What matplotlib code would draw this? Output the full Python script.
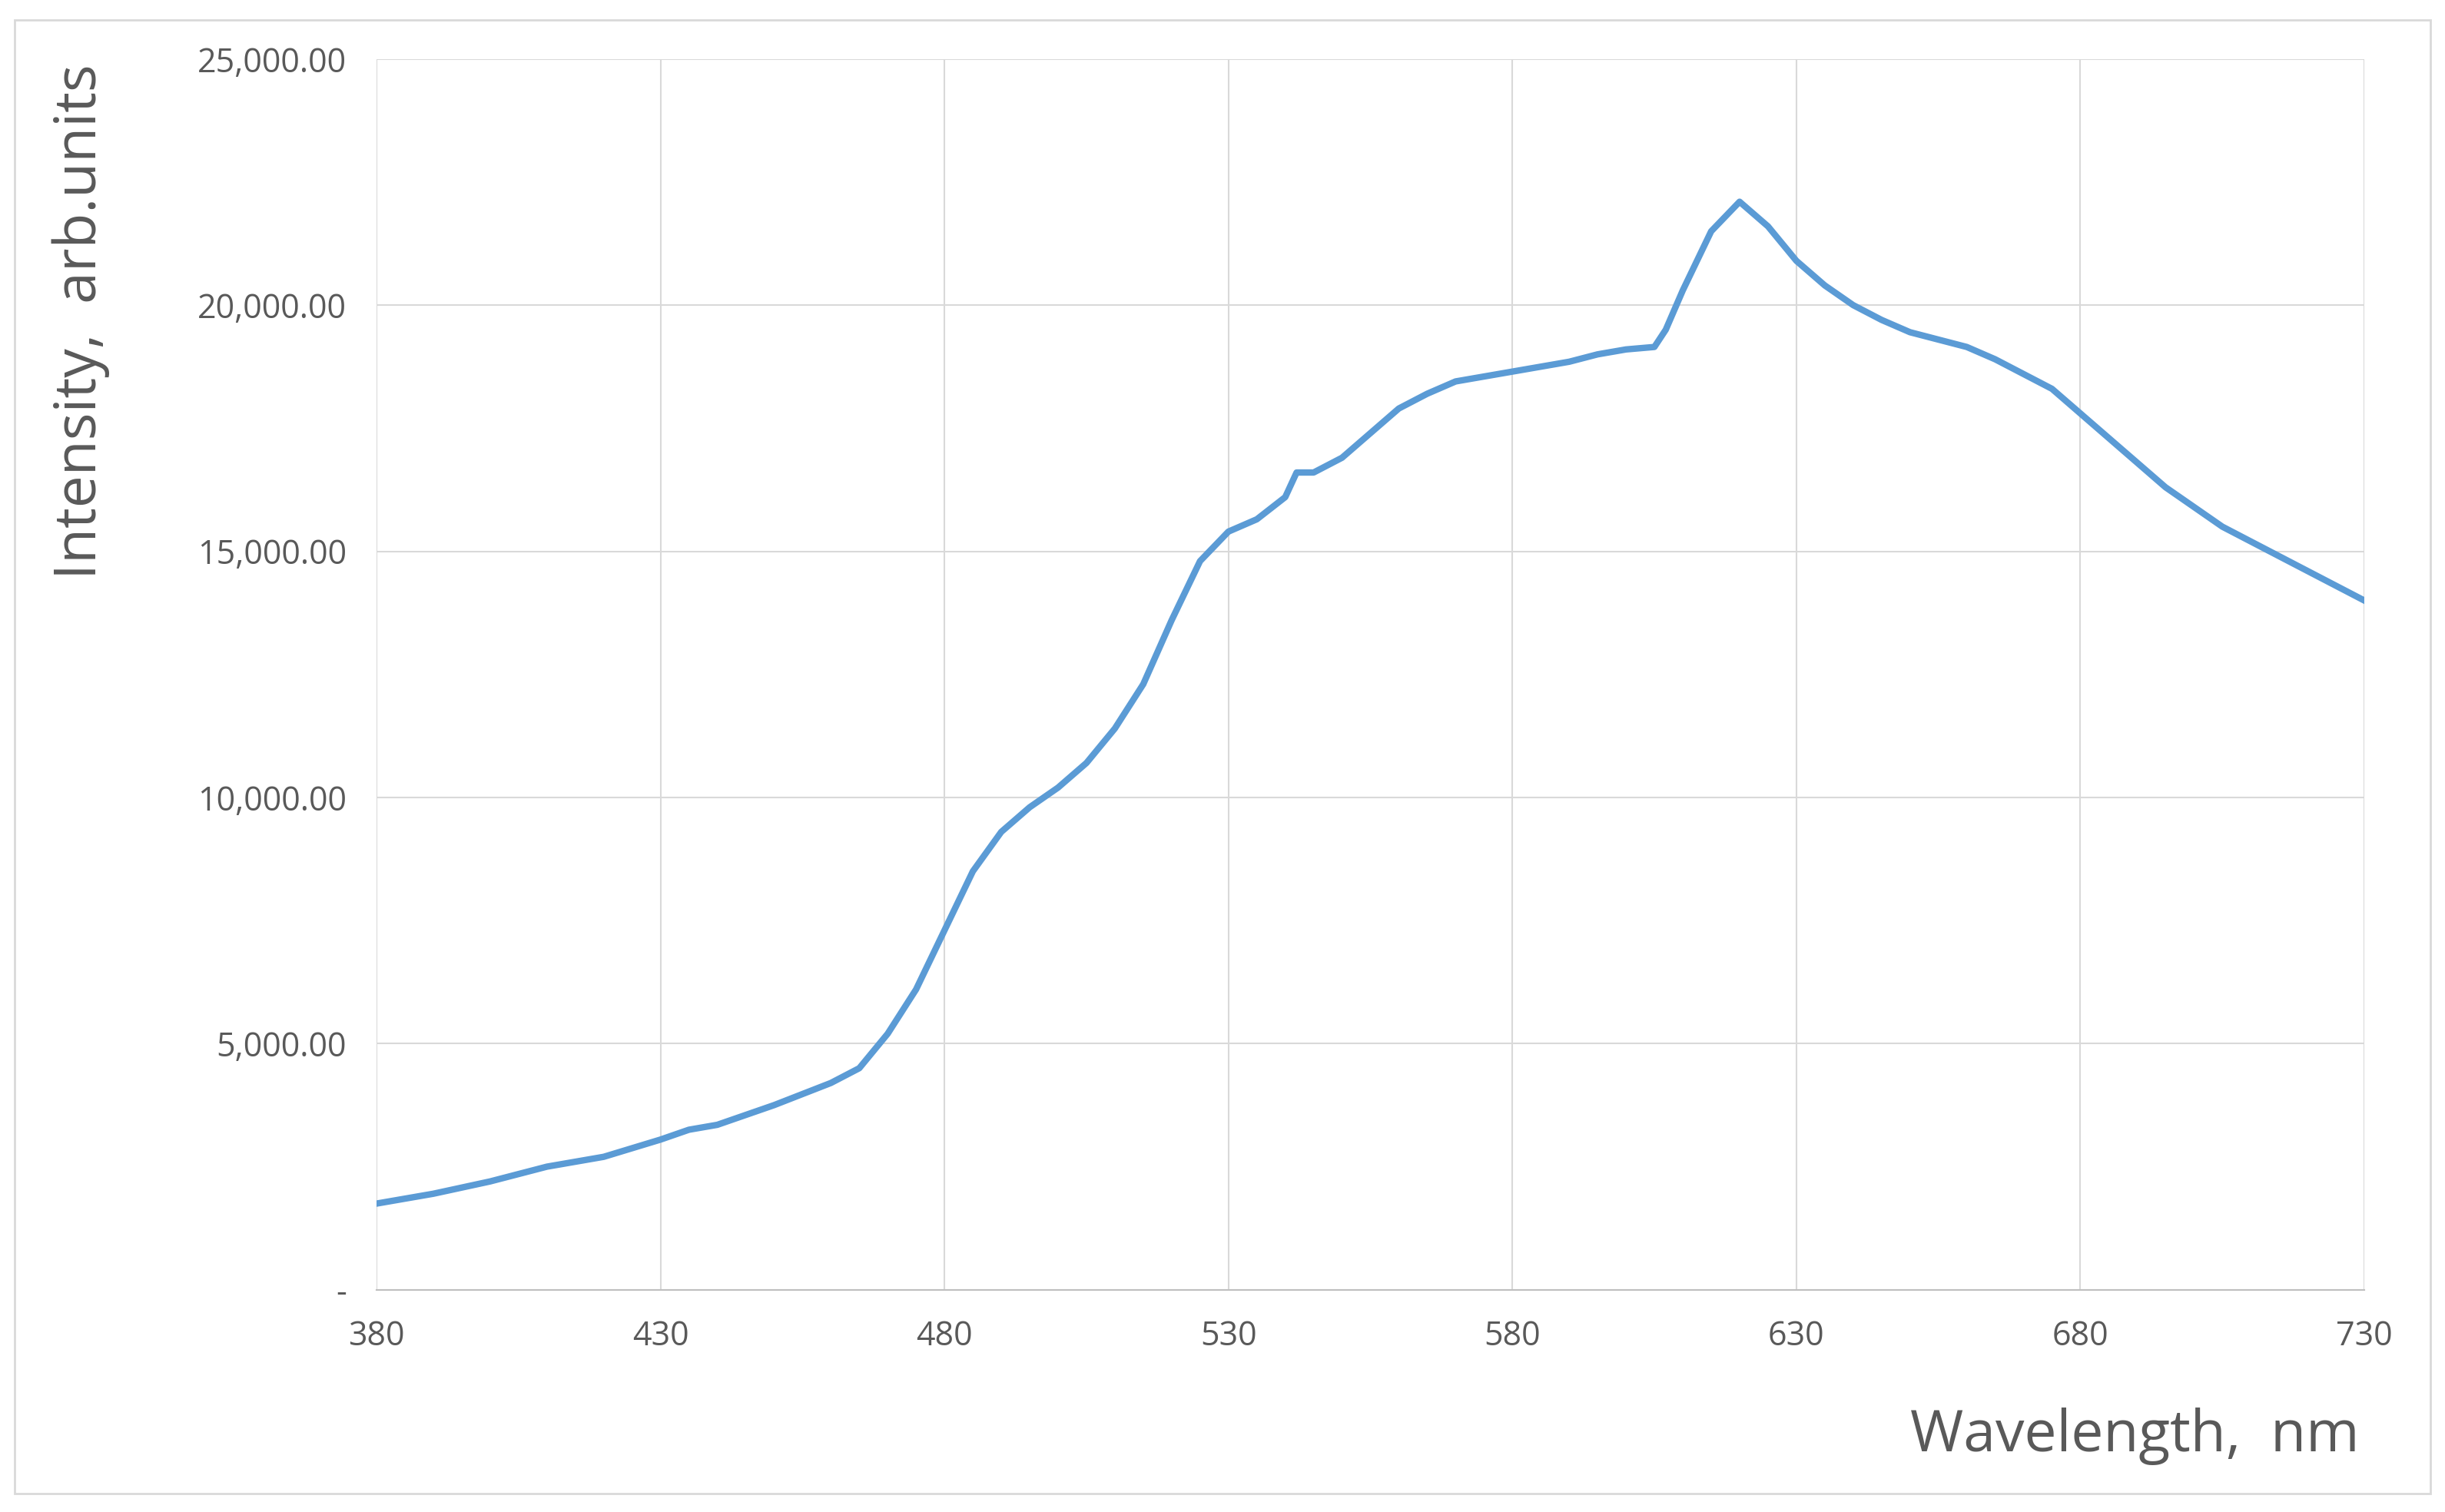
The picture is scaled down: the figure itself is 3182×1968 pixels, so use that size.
import matplotlib.pyplot as plt
from matplotlib.ticker import FuncFormatter
from matplotlib.patches import Rectangle

# 光譜數據
wavelength = [380, 390, 400, 410, 420, 430, 435, 440, 450, 460, 465, 470, 475, 480,
              485, 490, 495, 500, 505, 510, 515, 520, 525, 530, 535, 540, 542, 545,
              550, 555, 560, 565, 570, 575, 580, 585, 590, 595, 600, 605, 607, 610,
              615, 620, 625, 630, 635, 640, 645, 650, 655, 660, 665, 670, 675, 680,
              685, 690, 695, 700, 705, 710, 715, 720, 725, 730]
intensity = [1750, 1950, 2200, 2500, 2700, 3050, 3250, 3350, 3750, 4200, 4500, 5200,
             6100, 7300, 8500, 9300, 9800, 10200, 10700, 11400, 12300, 13600, 14800,
             15400, 15650, 16100, 16600, 16600, 16900, 17400, 17900, 18200, 18450,
             18550, 18650, 18750, 18850, 19000, 19100, 19150, 19500, 20300, 21500,
             22100, 21600, 20900, 20400, 20000, 19700, 19450, 19300, 19150, 18900,
             18600, 18300, 17800, 17300, 16800, 16300, 15900, 15500, 15200, 14900,
             14600, 14300, 14000]
x_ticks = [380, 430, 480, 530, 580, 630, 680, 730]
y_ticks = [0, 5000, 10000, 15000, 20000, 25000]

plt.rcParams['font.family'] = ['Open Sans', 'DejaVu Sans']
grey = '#595959'

fig = plt.figure(figsize=(31.82, 19.68), dpi=100)
fig.patches.append(Rectangle((0.006, 0.012), 0.988, 0.975, transform=fig.transFigure,
                             fill=False, edgecolor='#d9d9d9', linewidth=2))
ax = fig.add_axes([0.154, 0.147, 0.813, 0.814])
ax.plot(wavelength, intensity, color='#5b9bd5', linewidth=6)

ax.set_xlim(380, 730)
ax.set_ylim(0, 25000)
ax.set_xticks(x_ticks)
ax.set_yticks(y_ticks)
ax.yaxis.set_major_formatter(FuncFormatter(lambda v, p: '-' if v == 0 else f'{v:,.2f}'))
ax.grid(True, color='#d9d9d9', linewidth=1.5)
for s in ['top', 'right', 'left']:
    ax.spines[s].set_visible(False)
ax.spines['bottom'].set_color('#bfbfbf')
ax.spines['bottom'].set_linewidth(1.5)
ax.tick_params(length=0, labelsize=31, colors=grey, pad=28)

fig.text(0.965, 0.05, 'Wavelength,  nm', fontsize=54, color=grey, ha='right', va='center')
fig.text(0.033, 0.787, 'Intensity,  arb.units', fontsize=54, color=grey, rotation=90,
         ha='center', va='center')

fig.savefig('out.png', dpi=100)
